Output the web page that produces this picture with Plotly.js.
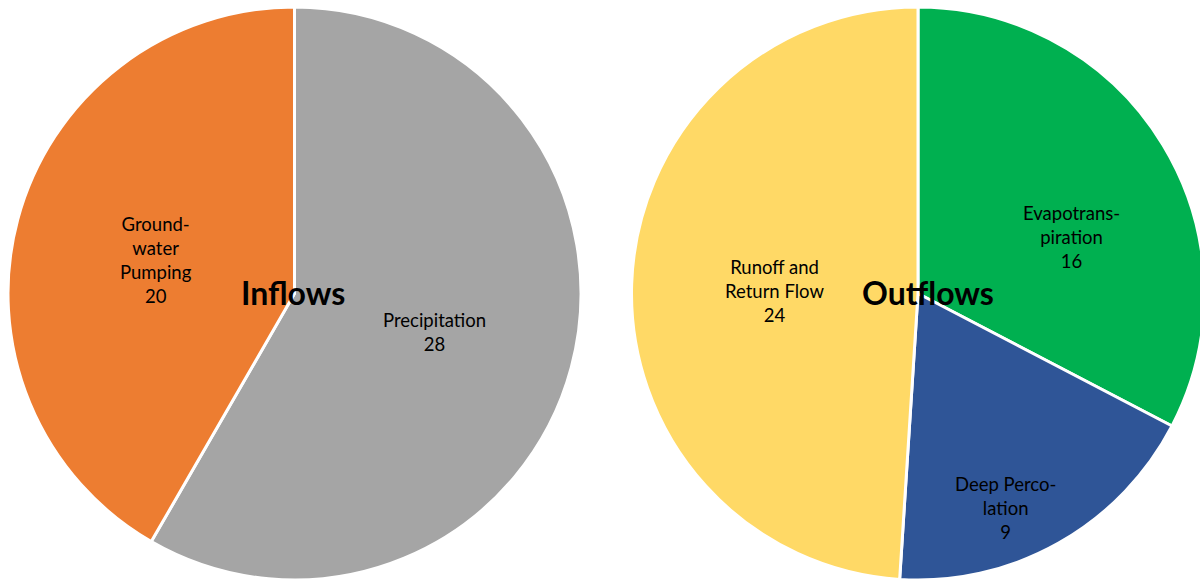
<!DOCTYPE html>
<html><head><meta charset="utf-8">
<script src="https://cdn.plot.ly/plotly-3.0.1.min.js"></script>
<style>html,body{margin:0;padding:0;overflow:hidden;background:#fff}</style>
</head><body><div id="chart"></div>
<script>
// Data
const inflowLabels = ['Precipitation', 'Groundwater Pumping'];
const inflowValues = [28, 20];
const inflowDisplay = ['Precipitation', 'Ground-<br>water<br>Pumping'];
const inflowColors = ['#A5A5A5', '#ED7D31'];

const outflowLabels = ['Evapotranspiration', 'Deep Percolation', 'Runoff and Return Flow'];
const outflowValues = [16, 9, 24];
const outflowDisplay = ['Evapotrans-<br>piration', 'Deep Perco-<br>lation', 'Runoff and<br>Return Flow'];
const outflowColors = ['#00B050', '#2F5597', '#FFD966'];

const W = 1206, H = 581;
const px = x => x / W;
const py = y => 1 - y / H;

const labelFont = {family: 'Lato, "Liberation Sans", sans-serif', size: 18.5, color: '#000'};
const titleFont = {family: 'Lato, "Liberation Sans", sans-serif', size: 32, color: '#000', weight: 'bold'};

const inflowPos = [[434, 332], [156, 260]];
const outflowPos = [[1071, 237], [1005, 508], [774, 291]];

const annotations = [];
inflowDisplay.forEach((d, i) => annotations.push({
  xref: 'paper', yref: 'paper', x: px(inflowPos[i][0]), y: py(inflowPos[i][1]),
  text: d + '<br>' + inflowValues[i], showarrow: false, font: labelFont,
  xanchor: 'center', yanchor: 'middle', align: 'center'
}));
outflowDisplay.forEach((d, i) => annotations.push({
  xref: 'paper', yref: 'paper', x: px(outflowPos[i][0]), y: py(outflowPos[i][1]),
  text: d + '<br>' + outflowValues[i], showarrow: false, font: labelFont,
  xanchor: 'center', yanchor: 'middle', align: 'center'
}));
annotations.push({xref: 'paper', yref: 'paper', x: px(293), y: py(292), text: '<b>Inflows</b>',
  showarrow: false, font: titleFont, xanchor: 'center', yanchor: 'middle'});
annotations.push({xref: 'paper', yref: 'paper', x: px(928), y: py(292), text: '<b>Outflows</b>',
  showarrow: false, font: titleFont, xanchor: 'center', yanchor: 'middle'});

const data = [
  {type: 'pie', labels: inflowLabels, values: inflowValues, sort: false, direction: 'clockwise', rotation: 0,
   marker: {colors: inflowColors, line: {color: '#fff', width: 3}}, textinfo: 'none', hoverinfo: 'label+value',
   domain: {x: [px(8), px(581)], y: [py(580), py(7)]}},
  {type: 'pie', labels: outflowLabels, values: outflowValues, sort: false, direction: 'clockwise', rotation: 0,
   marker: {colors: outflowColors, line: {color: '#fff', width: 3}}, textinfo: 'none', hoverinfo: 'label+value',
   domain: {x: [px(631), px(1205)], y: [py(580), py(7)]}}
];

const layout = {
  width: W, height: H, margin: {l: 0, r: 0, t: 0, b: 0},
  showlegend: false, paper_bgcolor: '#fff', annotations: annotations
};
Plotly.newPlot('chart', data, layout, {displayModeBar: false, staticPlot: true});
</script></body></html>
